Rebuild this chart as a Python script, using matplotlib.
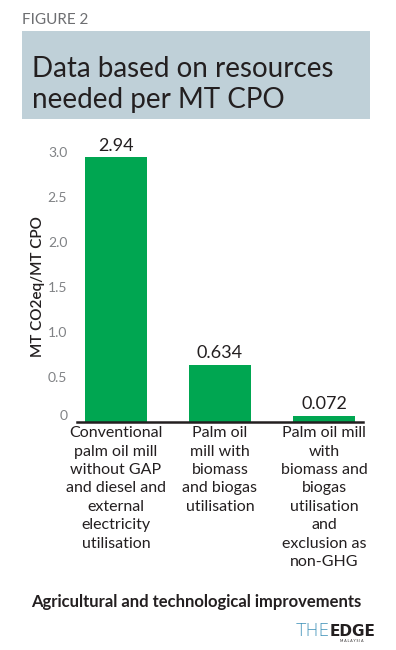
import matplotlib
matplotlib.use("Agg")
import matplotlib.pyplot as plt
from matplotlib.patches import Rectangle

plt.rcParams['font.family'] = ['Lato', 'DejaVu Sans']

# data
categorias = [
    "Conventional\npalm oil mill\nwithout GAP\nand diesel and\nexternal\nelectricity\nutilisation",
    "Palm oil\nmill with\nbiomass\nand biogas\nutilisation",
    "Palm oil mill\nwith\nbiomass and\nbiogas\nutilisation\nand\nexclusion as\nnon-GHG",
]
valores = [2.94, 0.634, 0.072]
rotulos = ["2.94", "0.634", "0.072"]
ticks_y = [0, 0.5, 1.0, 1.5, 2.0, 2.5, 3.0]
ticks_y_txt = ["0", "0.5", "1.0", "1.5", "2.0", "2.5", "3.0"]

W, H = 396, 650
fig = plt.figure(figsize=(W / 100, H / 100), dpi=100)
fig.patch.set_facecolor("white")

# cabecalho
fig.text(22 / W, 1 - 20 / H, "FIGURE 2", fontsize=11, color="#6d6e71", va="center", ha="left")
fig.patches.append(Rectangle((22 / W, 1 - 119 / H), (370 - 22) / W, (119 - 31) / H,
                             transform=fig.transFigure, facecolor="#bfd0d8", edgecolor="none"))
fig.text(32 / W, 1 - 69 / H, "Data based on resources", fontsize=20, color="#231f20", va="center", ha="left")
fig.text(32 / W, 1 - 100 / H, "needed per MT CPO", fontsize=20, color="#231f20", va="center", ha="left")

# grafico
ax = fig.add_axes([77 / W, 228 / H, (363 - 77) / W, (422 - 152) / H])
x = range(len(valores))
ax.bar(x, valores, width=0.6, color="#00a651")
ax.set_xlim(-0.375, 2.375)
ax.set_ylim(0, 3.0)
for i, v in enumerate(valores):
    ax.text(i, v + 0.04, rotulos[i], ha="center", va="bottom", fontsize=13, color="#231f20")

ax.set_yticks(ticks_y)
ax.set_yticklabels(ticks_y_txt, fontsize=10, color="#808285")
ax.get_yticklabels()[0].set_verticalalignment("bottom")
ax.tick_params(axis="y", length=0, pad=7)
ax.set_xticks(list(x))
ax.set_xticklabels(categorias, fontsize=11.5, color="#231f20", linespacing=1.4)
ax.tick_params(axis="x", length=0, pad=3)
for s in ["top", "right", "left"]:
    ax.spines[s].set_visible(False)
ax.spines["bottom"].set_linewidth(1.8)
ax.spines["bottom"].set_color("#231f20")
ax.set_ylabel("MT CO2eq/MT CPO", fontsize=11, fontweight="semibold", color="#231f20", labelpad=2)

# rodape
fig.text(31 / W, 1 - 602 / H, "Agricultural and technological improvements", fontsize=12,
         fontweight="bold", color="#231f20", va="center", ha="left")
fig.text(330 / W, 1 - 631 / H, "THE", fontsize=12.5, color="#3a8fb7", va="center", ha="right",
         family="DejaVu Sans", fontweight="light")
fig.text(330 / W, 1 - 631 / H, "EDGE", fontsize=11, fontweight="heavy", color="#231f20", va="center",
         ha="left", family="DejaVu Sans")
fig.text(352 / W, 1 - 641 / H, "M A L A Y S I A", fontsize=2.5, color="#231f20", va="center", ha="center")

fig.savefig("out.png", dpi=100)
